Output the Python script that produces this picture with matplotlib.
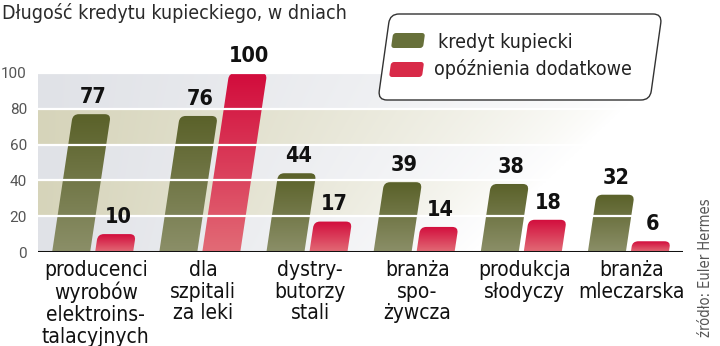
import numpy as np
import matplotlib
matplotlib.use("Agg")
import matplotlib.pyplot as plt
from matplotlib import font_manager
from matplotlib.path import Path
from matplotlib.patches import PathPatch, FancyBboxPatch
from matplotlib.colors import LinearSegmentedColormap, to_rgb
from matplotlib.transforms import Affine2D

categories = ["producenci\nwyrobów\nelektroins-\ntalacyjnych",
              "dla\nszpitali\nza leki",
              "dystry-\nbutorzy\nstali",
              "branża\nspo-\nżywcza",
              "produkcja\nsłodyczy",
              "branża\nmleczarska"]
kredyt = [77, 76, 44, 39, 38, 32]
opoznienia = [10, 100, 17, 14, 18, 6]
series_names = ["kredyt kupiecki", "opóźnienia dodatkowe"]
yticks = [0, 20, 40, 60, 80, 100]

# pick a narrow face if one is around
fonts = font_manager.fontManager.ttflist
names = {f.name for f in fonts}
cond = [f.name for f in fonts if f.stretch in ("condensed", "semi-condensed", "extra-condensed")
        or "Narrow" in f.name or "Condensed" in f.name]
if "Liberation Sans Narrow" in names:
    NARROW, STRETCH = ["Liberation Sans Narrow", "DejaVu Sans"], "normal"
elif "DejaVu Sans" in cond:
    NARROW, STRETCH = ["DejaVu Sans"], "condensed"
elif cond:
    NARROW, STRETCH = [cond[0], "DejaVu Sans"], "normal"
else:
    NARROW, STRETCH = ["Roboto", "DejaVu Sans"], "normal"
TXT = dict(family=NARROW, fontstretch=STRETCH)

green_cmap = LinearSegmentedColormap.from_list("g", ["#8b8f68", "#5a6129"])
red_cmap = LinearSegmentedColormap.from_list("r", ["#e26b76", "#d20c3c"])

W, H, DPI = 720, 346, 100
fig = plt.figure(figsize=(W / DPI, H / DPI), dpi=DPI)
left, right = 38 / W, 683 / W
bottom, top = 1 - 252 / H, 1 - 73 / H
ax = fig.add_axes([left, bottom, right - left, top - bottom])
xlim = (-0.51, 5.51)
ylim = (0, 100)

px_x = W * (right - left) / (xlim[1] - xlim[0])   # pixels per group
px_y = H * (top - bottom) / (ylim[1] - ylim[0])   # pixels per day
skew = 0.15 * px_y / px_x                         # slant of the bars
bar_w = 38 / px_x
offset = 21.5 / px_x

# background bands, fading out towards the right
nx, ny = 500, 400
xs = np.linspace(38, 683, nx)
ys = np.linspace(0, 100, ny)
XX, YY = np.meshgrid(xs, ys)
band = np.floor(YY / 20.0001).astype(int)
gray = np.array(to_rgb("#e0e2e7"))
beige = np.array(to_rgb("#d6d4ba"))
col = np.where((band % 2 == 1)[..., None], beige, gray)
x_end = 470 + 190 * (YY / 100)
fade = np.clip(1 - (XX - 38) / (x_end - 38), 0, 1) ** 0.8
fade = fade[..., None]
img = col * fade + (1 - fade) * 1.0
ax.imshow(img, extent=[xlim[0], xlim[1], 0, 100], origin="lower",
          aspect="auto", zorder=0, interpolation="bilinear")


def bar_patch(xc, h, r_px=6):
    rx = r_px / px_x
    ry = min(r_px / px_y, h / 2)
    x0, x1 = xc - bar_w / 2, xc + bar_w / 2
    s = skew * h
    sr = skew * (h - ry)
    verts = [(x0, 0), (x1, 0), (x1 + sr, h - ry), (x1 + s, h), (x1 + s - rx, h),
             (x0 + s + rx, h), (x0 + s, h), (x0 + sr, h - ry), (x0, 0)]
    codes = [Path.MOVETO, Path.LINETO, Path.LINETO, Path.CURVE3, Path.CURVE3,
             Path.LINETO, Path.CURVE3, Path.CURVE3, Path.CLOSEPOLY]
    return PathPatch(Path(verts, codes), facecolor="none", edgecolor="none")


grad = np.linspace(0, 1, 256).reshape(-1, 1)
for i in range(len(categories)):
    for val, dx, cmap in ((kredyt[i], -offset, green_cmap),
                          (opoznienia[i], offset, red_cmap)):
        xc = i + dx
        p = bar_patch(xc, val)
        ax.add_patch(p)
        im = ax.imshow(grad, cmap=cmap, origin="lower", aspect="auto",
                       extent=[xc - bar_w, xc + bar_w + skew * val, 0, val], zorder=2)
        im.set_clip_path(p)
        ax.text(xc + skew * val + 0.01, val + 4, str(val), ha="center", va="bottom",
                fontsize=15.5, fontweight="bold", color="#111",
                zorder=5, clip_on=False, **TXT)

for y in yticks[1:]:
    ax.axhline(y, color="white", lw=1.6, zorder=3)
ax.axhline(0, color="#111", lw=2.2, zorder=4)

ax.set_xlim(*xlim)
ax.set_ylim(*ylim)
for sp in ax.spines.values():
    sp.set_visible(False)
ax.set_xticks([])
ax.set_yticks(yticks)
ax.tick_params(axis="y", length=0, pad=8)
for lab in ax.get_yticklabels():
    lab.set_fontsize(11)
    lab.set_color("#555")
    lab.set_family(["Roboto", "DejaVu Sans"])

for i, name in enumerate(categories):
    ax.text(i + 0.03, -4.5, name, ha="center", va="top", fontsize=15,
            color="#111", linespacing=1.1, clip_on=False, **TXT)

fig.text(2 / W, 1 - 13 / H, "Długość kredytu kupieckiego, w dniach", ha="left",
         va="center", fontsize=14, color="#2a2a2a", **TXT)

# legend box, slanted with rounded corners
t = 0.14
def slanted(x, y, w, h, r, **kw):
    tr = Affine2D().skew(np.arctan(t), 0).scale(1 / DPI) + fig.dpi_scale_trans
    return FancyBboxPatch((x - t * y, y), w, h,
                          boxstyle=f"round,pad=0,rounding_size={r}",
                          transform=tr, **kw)

fig.patches.append(slanted(378, H - 100, 272, 86, 9, facecolor="white",
                           edgecolor="#333", lw=1.0))
fig.patches.append(slanted(391, H - 48, 32, 15, 3, facecolor="#67703a",
                           edgecolor="none"))
fig.patches.append(slanted(389, H - 77, 33, 15, 3, facecolor="#d82a48",
                           edgecolor="none"))
fig.text(438 / W, 1 - 42 / H, series_names[0], ha="left", va="center",
         fontsize=14, color="#222", **TXT)
fig.text(434 / W, 1 - 69 / H, series_names[1], ha="left", va="center",
         fontsize=14, color="#222", **TXT)

fig.text(705 / W, 1 - 268 / H, "źródło: Euler Hermes", rotation=90, ha="center",
         va="center", fontsize=10.5, color="#555", **TXT)

fig.savefig("out.png", dpi=DPI)
